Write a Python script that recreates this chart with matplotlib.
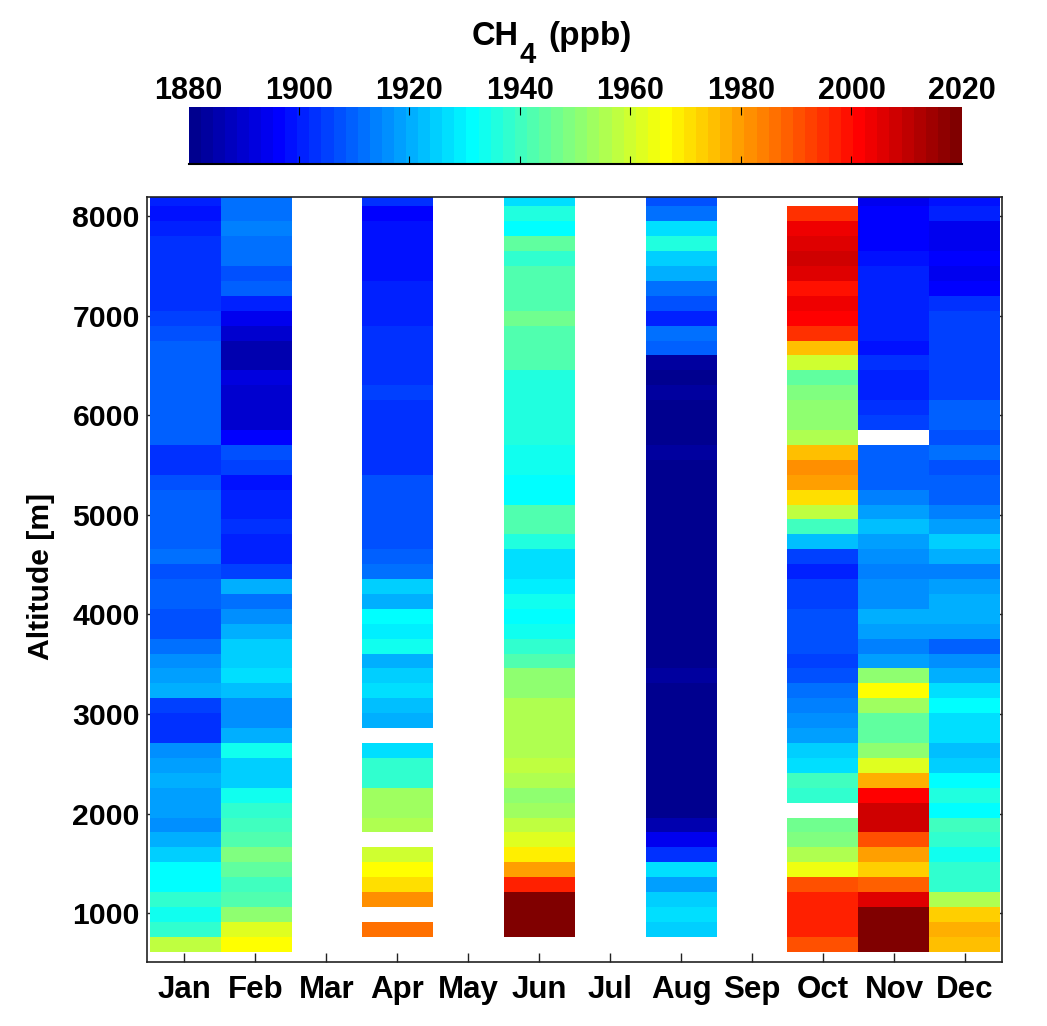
import numpy as np
import matplotlib
matplotlib.use("Agg")
import matplotlib.pyplot as plt
from matplotlib.colors import ListedColormap

plt.rcParams['font.family'] = ['Liberation Sans', 'DejaVu Sans']

n = np.nan

months = ["Jan", "Feb", "Mar", "Apr", "May", "Jun", "Jul", "Aug", "Sep", "Oct", "Nov", "Dec"]
altitude_ticks = [1000, 2000, 3000, 4000, 5000, 6000, 7000, 8000]
ppb_ticks = [1880, 1900, 1920, 1940, 1960, 1980, 2000, 2020]

# ppb per altitude bin, listed from the top bin down to the lowest one
jan = [1901, 1899, 1901, 1903, 1903, 1903, 1903, 1903, 1905, 1907, 1909.5, 1909.5, 1909.5, 1909.5, 1909.5, 1909.5, 1909.5,
       1903, 1903, 1907, 1909.5, 1909.5, 1909.5, 1909.5, 1911.7, 1907, 1909.5, 1909.5, 1907, 1907, 1911.7, 1916, 1918, 1921,
       1905, 1903, 1903, 1916, 1919, 1921, 1919, 1919, 1917, 1921, 1925, 1931.4, 1931.4, 1938, 1933.6, 1938, 1957]
feb = [1911.7, 1911.7, 1914, 1911.7, 1911.7, 1907, 1909.5, 1901, 1894, 1890, 1885.5, 1885.5, 1892, 1890, 1890, 1890, 1896.4,
       1907, 1905, 1899, 1901, 1901, 1903, 1901, 1901, 1905, 1920.5, 1911.7, 1916, 1920.5, 1925, 1925, 1927, 1922,
       1916, 1916, 1920.5, 1933.6, 1925, 1925, 1933.6, 1938, 1940, 1942, 1949, 1944.5, 1940, 1942, 1951, 1962, 1966.4]
mar = [n] * 51
apr = [1903, 1896.4, 1899, 1899, 1899, 1899, 1901, 1901, 1901, 1903, 1903, 1903, 1903, 1905, 1903, 1903, 1903,
       1903, 1903, 1907, 1907, 1907, 1907, 1907, 1909.5, 1911.7, 1924, 1921, 1931.4, 1929, 1933.6, 1920.5, 1925, 1927,
       1922, 1920.5, n, 1927, 1938, 1938, 1953, 1953, 1955.5, n, 1960, 1966.4, 1971, 1981.7, n, 1986, n]
may = [n] * 51
jun = [1927, 1935.8, 1931.4, 1944.5, 1938, 1942, 1942, 1942, 1946.7, 1942, 1942, 1942, 1935.8, 1935.8, 1935.8, 1935.8, 1935.8,
       1933.6, 1933.6, 1931.4, 1931.4, 1942, 1942, 1935.8, 1927, 1927, 1929, 1933.6, 1931.4, 1933.6, 1938, 1942, 1951, 1951,
       1955.5, 1955.5, 1955.5, 1955.5, 1957.7, 1955.5, 1951, 1953, 1957.7, 1962, 1969, 1979.5, 1997, 2019, 2019, 2019, n]
jul = [n] * 51
aug = [1907, 1911.7, 1927, 1935.8, 1925, 1920.5, 1911.7, 1907, 1901, 1911.7, 1909.5, 1883, 1880.5, 1883, 1881, 1881, 1881,
       1883, 1881, 1881, 1881, 1881, 1881, 1881, 1881, 1881, 1881, 1881, 1881, 1881, 1881, 1881, 1883, 1881,
       1881, 1881, 1881, 1881, 1881, 1881, 1881, 1881, 1885.5, 1894, 1903, 1927, 1918, 1925, 1927, 1925, n]
sep = [n] * 51
oct_ = [n, 1995, 2003.6, 2005.8, 2008, 2005, 1999, 2003.6, 2001.4, 1995, 1975, 1960, 1944.5, 1949, 1951, 1951, 1955.5,
        1975, 1981.7, 1979.5, 1970.8, 1957.7, 1940, 1922.7, 1905, 1901, 1905, 1905, 1907, 1907, 1907, 1905, 1907, 1911.7,
        1914, 1916, 1919, 1924, 1927, 1940, 1938, n, 1946.7, 1949, 1955.5, 1964, 1990.5, 1997, 1997, 1997, 1990.5]
nov = [1894, 1896.4, 1896.4, 1896.4, 1899, 1901, 1901, 1901, 1901, 1901, 1899, 1903, 1901, 1901, 1903, 1905, n,
       1909.5, 1909.5, 1909.5, 1914, 1918, 1922.7, 1918, 1916, 1914, 1916, 1916, 1920.5, 1918, 1914, 1918, 1951, 1966.4,
       1953, 1944.5, 1944.5, 1951, 1962, 1977, 2001.4, 2008, 2008, 1990.5, 1979.5, 1973, 1988, 2005.8, 2019, 2019, 2019]
dec = [1899, 1901, 1894, 1894, 1896.4, 1894, 1896.4, 1903, 1905, 1905, 1905, 1905, 1905, 1905, 1909.5, 1909.5, 1907,
       1911.7, 1907, 1909.5, 1909.5, 1914, 1919, 1925, 1921, 1914, 1919, 1921, 1921, 1919, 1909.5, 1917, 1920.5, 1926,
       1931.4, 1927, 1927, 1922, 1925, 1931.4, 1935.8, 1931.4, 1940, 1938, 1933.6, 1938, 1938, 1955.5, 1973, 1977, 1975]

W, H = 1047, 1026
fig = plt.figure(figsize=(W / 100, H / 100), dpi=100)

grid = np.array([jan, feb, mar, apr, may, jun, jul, aug, sep, oct_, nov, dec], dtype=float).T[::-1]
x_edges = np.linspace(0.515, 12.49, 13)
y_edges = 615 + 149.6 * np.arange(52)

# matlab flavour of jet, matplotlib's own has its stops a bit elsewhere
t = np.arange(1, 65) / 64
jet64 = np.clip(np.column_stack([np.minimum(4 * t - 1.5, 4.5 - 4 * t),
                                 np.minimum(4 * t - 0.5, 3.5 - 4 * t),
                                 np.minimum(4 * t + 0.5, 2.5 - 4 * t)]), 0, 1)
cmap = ListedColormap(jet64)
cmap.set_bad("white")

ax = fig.add_axes([146.7 / W, 1 - 962.3 / H, (1002 - 146.7) / W, (962.3 - 197) / H])
mesh = ax.pcolormesh(x_edges, y_edges, np.ma.masked_invalid(grid), cmap=cmap, vmin=1880, vmax=2020, zorder=1)
ax.set_axisbelow(True)
ax.set_xlim(0.47, 12.52)
ax.set_ylim(508, 8190)
ax.set_xticks(range(1, 13))
ax.set_xticklabels(months, fontsize=22.5, fontweight='bold')
ax.set_yticks(altitude_ticks)
ax.set_yticklabels([str(a) for a in altitude_ticks], fontsize=21.7, fontweight='bold')
ax.tick_params(direction='in', length=6.5, width=1, top=True, right=True, color='#222222', pad=5)
ax.tick_params(axis='x', pad=9)
ax.set_ylabel("Altitude [m]", fontsize=21.7, fontweight='bold')
ax.yaxis.set_label_coords(-0.107, 0.504)
for s in ax.spines.values():
    s.set_color('#222222')
    s.set_linewidth(1.2)

cax = fig.add_axes([188.5 / W, 1 - 164 / H, (962 - 188.5) / W, (164 - 107) / H])
cb = fig.colorbar(mesh, cax=cax, orientation='horizontal', ticks=ppb_ticks)
cb.outline.set_visible(False)
cax.axhline(0, color='black', lw=1.5, clip_on=False)
cax.xaxis.set_ticks_position('both')
cax.tick_params(axis='x', direction='in', length=6, width=0.8, labeltop=True, labelbottom=False, pad=1)
cax.set_xticklabels([str(t) for t in ppb_ticks], fontsize=22, fontweight='bold')
# no tick marks on the two ends of the bar
for i in [0, -1]:
    tk = cax.xaxis.get_major_ticks()[i]
    tk.tick1line.set_visible(False)
    tk.tick2line.set_visible(False)

fig.text(472 / W, 1 - 45 / H, "CH", fontsize=23.5, fontweight='bold', ha='left', va='baseline')
fig.text(520 / W, 1 - 63 / H, "4", fontsize=21, fontweight='bold', ha='left', va='baseline')
fig.text(548 / W, 1 - 45 / H, "(ppb)", fontsize=24, fontweight='bold', ha='left', va='baseline')

fig.savefig("out.png", dpi=100)
